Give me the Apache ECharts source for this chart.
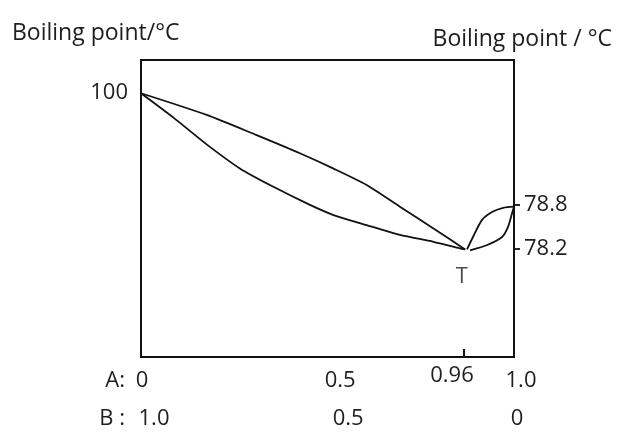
<!DOCTYPE html>
<html>
<head>
<meta charset="utf-8">
<script src="https://cdn.jsdelivr.net/npm/echarts@6/dist/echarts.min.js"></script>
<style>
  html, body { margin: 0; padding: 0; background: #fff; }
  #chart { width: 617px; height: 434px; }
</style>
</head>
<body>
<div id="chart"></div>
<script>
// Schematic (not-to-scale) boiling-point diagram.
// x = position along the composition axis (0..1), y = height on the temperature axis (0..100)
const vaporX = [0, 0.176, 0.310, 0.426, 0.515, 0.605, 0.694, 0.784, 0.869];
const vaporY = [88.8, 81.5, 74.7, 68.6, 63.5, 57.9, 50.6, 43.3, 36.2];
const liquidX = [0, 0.087, 0.176, 0.265, 0.355, 0.453, 0.516, 0.605, 0.694, 0.784, 0.855, 0.869];
const liquidY = [88.8, 80.6, 71.6, 63.5, 57.3, 51.2, 47.8, 44.4, 41.1, 38.8, 36.6, 36.2];
const loopVaporX = [0.874, 0.890, 0.914, 0.941, 0.971, 1.0];
const loopVaporY = [36.2, 40.4, 46.1, 48.8, 50.2, 50.6];
const loopLiquidX = [0.882, 0.928, 0.968, 0.984, 0.995, 1.0];
const loopLiquidY = [35.9, 37.7, 40.4, 43.8, 48.5, 50.6];
const azeoX = [0.871];
const azeoY = [36.2];
const azeoLabel = 'T';

// composition ticks (positions on the schematic axis) and their labels
const compTickPos = [0, 0.534, 0.866, 1.0];
const aLabels = ['0', '0.5', '0.96', '1.0'];
const bLabels = ['1.0', '0.5', '', '0'];
const compMarkPos = [0.866];
// temperature ticks
const leftTickPos = [88.9];
const leftLabels = ['100'];
const rightTickPos = [51.4, 36.4];
const rightLabels = ['78.8', '78.2'];

const leftTitle = 'Boiling point/°C';
const rightTitle = 'Boiling point / °C';
const aName = 'A:';
const bName = 'B :';

// ---- styling ----
const FONT = 'Open Sans';
const INK = '#111';
const TXT = '#1e1e1e';
const FS = 22;

function zip(xs, ys) { return xs.map((x, i) => [x, ys[i]]); }
function idxOf(arr, v) {
  let best = 0;
  for (let i = 1; i < arr.length; i++) if (Math.abs(arr[i] - v) < Math.abs(arr[best] - v)) best = i;
  return best;
}
// per-label nudges [dx, dy] to follow the hand-placed labels of the original
const aNudge = [[1, 5], [0, 5], [-12, 0], [7, 5]];
const bNudge = [[13, 0], [8, 0], [0, 0], [3, 0]];
function richFor(nudges) {
  const r = {};
  nudges.forEach((n, i) => {
    const dx = n[0], dy = n[1];
    r['k' + i] = {
      fontFamily: FONT, fontSize: FS, color: TXT,
      padding: [dy, dx < 0 ? -2 * dx : 0, 0, dx > 0 ? 2 * dx : 0]
    };
  });
  return r;
}
function compFormatter(labels) {
  return function (v) {
    const i = idxOf(compTickPos, v);
    return labels[i] ? '{k' + i + '|' + labels[i] + '}' : '';
  };
}

const lineStyle = { color: INK, width: 1.8 };
function curve(xs, ys) {
  return {
    type: 'line', xAxisIndex: 0, yAxisIndex: 0,
    data: zip(xs, ys), symbol: 'none', smooth: 0.25,
    lineStyle: lineStyle, silent: true
  };
}

const chart = echarts.init(document.getElementById('chart'), null, { renderer: 'canvas' });
chart.setOption({
  backgroundColor: '#fff',
  animation: false,
  title: [
    { text: leftTitle, left: 12, top: 22, padding: 0,
      textStyle: { fontFamily: FONT, fontSize: 23, fontWeight: 'normal', color: TXT } },
    { text: rightTitle, right: 5, top: 28, padding: 0,
      textStyle: { fontFamily: FONT, fontSize: 23, fontWeight: 'normal', color: TXT } }
  ],
  grid: {
    left: 141, top: 60, width: 373, height: 297,
    show: true, borderColor: INK, borderWidth: 2, backgroundColor: 'transparent'
  },
  xAxis: [
    {
      type: 'value', min: 0, max: 1, position: 'bottom',
      name: aName, nameLocation: 'start', nameGap: 16,
      nameTextStyle: { fontFamily: FONT, fontSize: FS, color: TXT, align: 'right', verticalAlign: 'top', padding: [13, 0, 0, 0] },
      axisLine: { show: false, onZero: false }, splitLine: { show: false },
      axisTick: { show: true, inside: true, length: 8, customValues: compMarkPos, lineStyle: { color: INK, width: 2 } },
      axisLabel: { customValues: compTickPos, margin: 8, formatter: compFormatter(aLabels), rich: richFor(aNudge),
        fontFamily: FONT, fontSize: FS, color: TXT }
    },
    {
      type: 'value', min: 0, max: 1, position: 'bottom',
      name: bName, nameLocation: 'start', nameGap: 16,
      nameTextStyle: { fontFamily: FONT, fontSize: FS, color: TXT, align: 'right', verticalAlign: 'top', padding: [51, 0, 0, 0] },
      axisLine: { show: false, onZero: false }, splitLine: { show: false }, axisTick: { show: false },
      axisLabel: { customValues: compTickPos, margin: 51, formatter: compFormatter(bLabels), rich: richFor(bNudge),
        fontFamily: FONT, fontSize: FS, color: TXT }
    }
  ],
  yAxis: [
    {
      type: 'value', min: 0, max: 100, position: 'left',
      axisLine: { show: false, onZero: false }, splitLine: { show: false }, axisTick: { show: false },
      axisLabel: { customValues: leftTickPos, margin: 13,
        formatter: v => leftLabels[idxOf(leftTickPos, v)],
        fontFamily: FONT, fontSize: FS, color: TXT }
    },
    {
      type: 'value', min: 0, max: 100, position: 'right',
      axisLine: { show: false, onZero: false }, splitLine: { show: false },
      axisTick: { show: true, length: 6, customValues: rightTickPos, lineStyle: { color: INK, width: 1.8 } },
      axisLabel: { customValues: rightTickPos, margin: 10,
        formatter: v => rightLabels[idxOf(rightTickPos, v)],
        fontFamily: FONT, fontSize: FS, color: TXT }
    }
  ],
  series: [
    curve(vaporX, vaporY),
    curve(liquidX, liquidY),
    curve(loopVaporX, loopVaporY),
    curve(loopLiquidX, loopLiquidY),
    {
      type: 'scatter', xAxisIndex: 0, yAxisIndex: 0,
      data: zip(azeoX, azeoY), symbolSize: 1,
      itemStyle: { color: 'rgba(0,0,0,0)' },
      label: { show: true, position: 'bottom', distance: 16, offset: [-4, 0],
        formatter: () => azeoLabel, fontFamily: FONT, fontSize: FS, color: TXT },
      silent: true
    }
  ]
});
</script>
</body>
</html>
